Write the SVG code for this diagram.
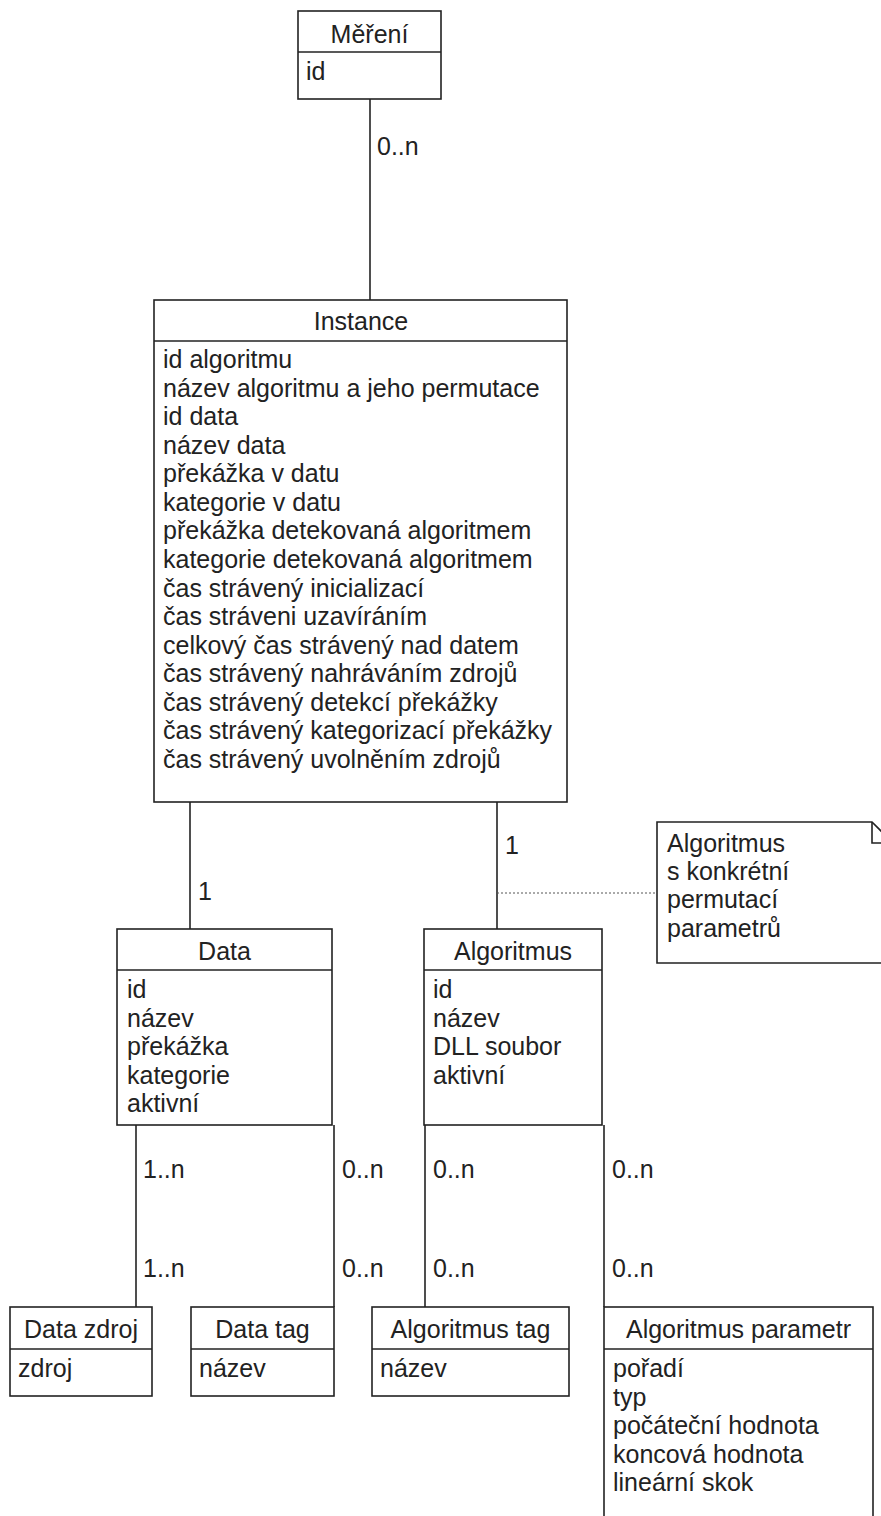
<svg xmlns="http://www.w3.org/2000/svg" width="881" height="1516" viewBox="0 0 881 1516">
<style>
text{font-family:"Liberation Sans",Arial,sans-serif;font-size:25px;fill:#222}
.t{text-anchor:middle}
.box{fill:#fff;stroke:#222;stroke-width:1.6}
.div{stroke:#222;stroke-width:1.6}
.c{stroke:#222;stroke-width:1.6;fill:none}
.d{stroke:#555;stroke-width:1;stroke-dasharray:2,2;fill:none}
</style>
<rect width="881" height="1516" fill="#fff"/>
<g id="connectors">
<line class="c" x1="370" y1="99" x2="370" y2="300"/>
<text x="377" y="155">0..n</text>
<line class="c" x1="190" y1="802" x2="190" y2="929"/>
<text x="198" y="900">1</text>
<line class="c" x1="497" y1="802" x2="497" y2="929"/>
<text x="505" y="854">1</text>
<line class="d" x1="497" y1="893" x2="657" y2="893"/>
<line class="c" x1="136" y1="1125" x2="136" y2="1307"/>
<text x="143" y="1178">1..n</text>
<text x="143" y="1277">1..n</text>
<line class="c" x1="334" y1="1125" x2="334" y2="1307"/>
<text x="342" y="1178">0..n</text>
<text x="342" y="1277">0..n</text>
<line class="c" x1="425" y1="1125" x2="425" y2="1307"/>
<text x="433" y="1178">0..n</text>
<text x="433" y="1277">0..n</text>
<line class="c" x1="604" y1="1125" x2="604" y2="1307"/>
<text x="612" y="1178">0..n</text>
<text x="612" y="1277">0..n</text>
</g>
<g id="mereni">
<rect class="box" x="298" y="11" width="143" height="88"/>
<line class="div" x1="298" y1="52" x2="441" y2="52"/>
<text class="t" x="369.5" y="43">Měření</text>
<text x="306" y="80">id</text>
</g>
<g id="instance">
<rect class="box" x="154" y="300" width="413" height="502"/>
<line class="div" x1="154" y1="341" x2="567" y2="341"/>
<text class="t" x="361" y="330">Instance</text>
<text x="163" y="368">id algoritmu</text>
<text x="163" y="396.6">název algoritmu a jeho permutace</text>
<text x="163" y="425.1">id data</text>
<text x="163" y="453.7">název data</text>
<text x="163" y="482.3">překážka v datu</text>
<text x="163" y="510.9">kategorie v datu</text>
<text x="163" y="539.4">překážka detekovaná algoritmem</text>
<text x="163" y="568">kategorie detekovaná algoritmem</text>
<text x="163" y="596.6">čas strávený inicializací</text>
<text x="163" y="625.1">čas stráveni uzavíráním</text>
<text x="163" y="653.7">celkový čas strávený nad datem</text>
<text x="163" y="682.3">čas strávený nahráváním zdrojů</text>
<text x="163" y="710.9">čas strávený detekcí překážky</text>
<text x="163" y="739.4">čas strávený kategorizací překážky</text>
<text x="163" y="768">čas strávený uvolněním zdrojů</text>
</g>
<g id="note">
<path class="box" d="M657,822 H872 L893,843 V963 H657 Z"/>
<path class="c" d="M872,822 V843 H893"/>
<text x="667" y="852">Algoritmus</text>
<text x="667" y="880">s konkrétní</text>
<text x="667" y="908">permutací</text>
<text x="667" y="937">parametrů</text>
</g>
<g id="data">
<rect class="box" x="117" y="929" width="215" height="196"/>
<line class="div" x1="117" y1="970" x2="332" y2="970"/>
<text class="t" x="224.5" y="960">Data</text>
<text x="127" y="998">id</text>
<text x="127" y="1026.5">název</text>
<text x="127" y="1055">překážka</text>
<text x="127" y="1083.5">kategorie</text>
<text x="127" y="1112">aktivní</text>
</g>
<g id="algoritmus">
<rect class="box" x="424" y="929" width="178" height="196"/>
<line class="div" x1="424" y1="970" x2="602" y2="970"/>
<text class="t" x="513" y="960">Algoritmus</text>
<text x="433" y="998">id</text>
<text x="433" y="1026.5">název</text>
<text x="433" y="1055">DLL soubor</text>
<text x="433" y="1083.5">aktivní</text>
</g>
<g id="data-zdroj">
<rect class="box" x="10" y="1307" width="142" height="89"/>
<line class="div" x1="10" y1="1349" x2="152" y2="1349"/>
<text class="t" x="81" y="1338">Data zdroj</text>
<text x="18" y="1377">zdroj</text>
</g>
<g id="data-tag">
<rect class="box" x="191" y="1307" width="143" height="89"/>
<line class="div" x1="191" y1="1349" x2="334" y2="1349"/>
<text class="t" x="262.5" y="1338">Data tag</text>
<text x="199" y="1377">název</text>
</g>
<g id="algoritmus-tag">
<rect class="box" x="372" y="1307" width="197" height="89"/>
<line class="div" x1="372" y1="1349" x2="569" y2="1349"/>
<text class="t" x="470.5" y="1338">Algoritmus tag</text>
<text x="380" y="1377">název</text>
</g>
<g id="algoritmus-parametr">
<rect class="box" x="604" y="1307" width="269" height="230"/>
<line class="div" x1="604" y1="1349" x2="873" y2="1349"/>
<text class="t" x="738.5" y="1338">Algoritmus parametr</text>
<text x="613" y="1377">pořadí</text>
<text x="613" y="1405.5">typ</text>
<text x="613" y="1434">počáteční hodnota</text>
<text x="613" y="1462.5">koncová hodnota</text>
<text x="613" y="1491">lineární skok</text>
</g>
</svg>
